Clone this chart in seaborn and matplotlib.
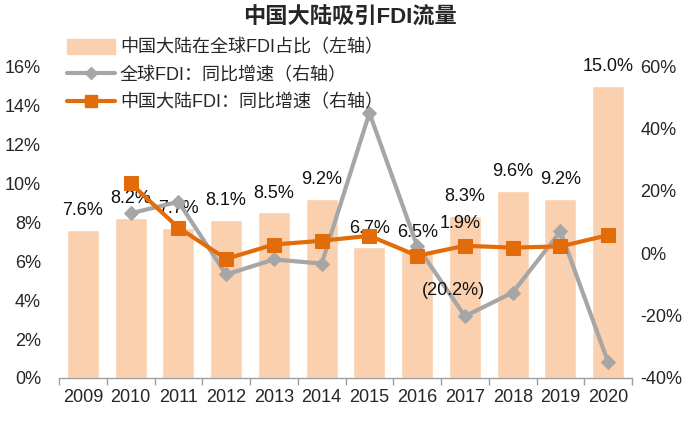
import numpy as np
import pandas as pd
import matplotlib
matplotlib.use("Agg")
import matplotlib.pyplot as plt
from matplotlib.patches import Patch
from matplotlib.lines import Line2D
import seaborn as sns

years = ["2009", "2010", "2011", "2012", "2013", "2014", "2015", "2016", "2017", "2018", "2019", "2020"]
share = [7.6, 8.2, 7.7, 8.1, 8.5, 9.2, 6.7, 6.5, 8.3, 9.6, 9.2, 15.0]
global_growth = [np.nan, 12.8, 16.5, -6.8, -2.0, -3.3, 45.0, 2.3, -20.2, -12.6, 7.0, -35.0]
china_growth = [np.nan, 22.4, 8.2, -1.8, 2.8, 4.0, 5.6, -0.8, 2.4, 1.8, 2.2, 5.8]
share_labels = ["7.6%", "8.2%", "7.7%", "8.1%", "8.5%", "9.2%", "6.7%", "6.5%", "8.3%", "9.6%", "9.2%", "15.0%"]

sns.set_theme(style="white")
FAM = ["Liberation Sans", "Noto Sans CJK SC", "DejaVu Sans"]
plt.rcParams["font.family"] = FAM

BAR = "#FBD0AE"
ORANGE = "#E36C0A"
GRAY = "#A6A6A6"
FS = 13

df = pd.DataFrame({"year": years, "share": share,
                   "global": global_growth, "china": china_growth,
                   "pos": np.arange(len(years))})

fig = plt.figure(figsize=(7, 4.38), dpi=100)
ax = fig.add_axes([0.0843, 0.137, 0.8187, 0.712])

sns.barplot(data=df, x="year", y="share", color=BAR, width=0.67, saturation=1, ax=ax, zorder=1)
ax.set_ylim(0, 16)
ax.set_yticks(np.arange(0, 17, 2))
ax.set_yticklabels([f"{v}%" for v in range(0, 17, 2)], fontsize=FS)
ax.set_xlim(-0.5, len(years) - 0.5)
ax.set_xlabel("")
ax.set_ylabel("")
ax.tick_params(axis="x", which="major", length=0, labelsize=FS, pad=8)
ax.set_xticks(np.arange(len(years) + 1) - 0.5, minor=True)
ax.tick_params(axis="x", which="minor", length=5, color="#A0A0A0", width=1, direction="out", bottom=True)
ax.tick_params(axis="y", length=0, pad=13)
for s in ["top", "left", "right"]:
    ax.spines[s].set_visible(False)
ax.spines["bottom"].set_color("#A0A0A0")
ax.spines["bottom"].set_linewidth(1)

for i, (v, lab) in enumerate(zip(share, share_labels)):
    ax.text(i, v + 0.55, lab, ha="center", va="bottom", fontsize=FS, color="#111111", zorder=5)

ax2 = ax.twinx()
sns.lineplot(data=df, x="pos", y="global", ax=ax2, color=GRAY, lw=3, marker="D",
             markersize=7, markeredgecolor=GRAY, zorder=3)
sns.lineplot(data=df, x="pos", y="china", ax=ax2, color=ORANGE, lw=3, marker="s",
             markersize=10, markeredgecolor=ORANGE, zorder=4)
ax2.set_ylim(-40, 60)
ax2.set_yticks(np.arange(-40, 61, 20))
ax2.set_yticklabels([f"{v}%" for v in range(-40, 61, 20)], fontsize=FS)
ax2.tick_params(axis="y", length=0, pad=6)
ax2.set_xlabel("")
ax2.set_ylabel("")
ax2.set_xlim(-0.5, len(years) - 0.5)
for s in ["top", "left", "right", "bottom"]:
    ax2.spines[s].set_visible(False)

# extra line labels
ax2.text(7.9, china_growth[8] + 4.5, "1.9%", ha="center", va="bottom", fontsize=FS, color="#111111")
ax2.text(7.75, global_growth[8] + 5.5, "(20.2%)", ha="center", va="bottom", fontsize=FS, color="#111111")

fig.text(0.5, 0.958, "中国大陆吸引FDI流量", ha="center", va="center",
         fontsize=16, fontweight="bold", family=FAM)

handles = [
    Patch(facecolor=BAR, edgecolor=BAR),
    Line2D([0], [0], color=GRAY, lw=3, marker="D", markersize=6),
    Line2D([0], [0], color=ORANGE, lw=3, marker="s", markersize=8),
]
labels = ["中国大陆在全球FDI占比（左轴）", "全球FDI：同比增速（右轴）", "中国大陆FDI：同比增速（右轴）"]
fig.legend(handles, labels, loc="upper left", bbox_to_anchor=(0.095, 0.912),
           frameon=False, handlelength=2.7, handleheight=0.9,
           handletextpad=0.25, labelspacing=0.55, borderaxespad=0, borderpad=0,
           prop={"family": FAM, "size": 13})

fig.savefig("out.png", dpi=100)
